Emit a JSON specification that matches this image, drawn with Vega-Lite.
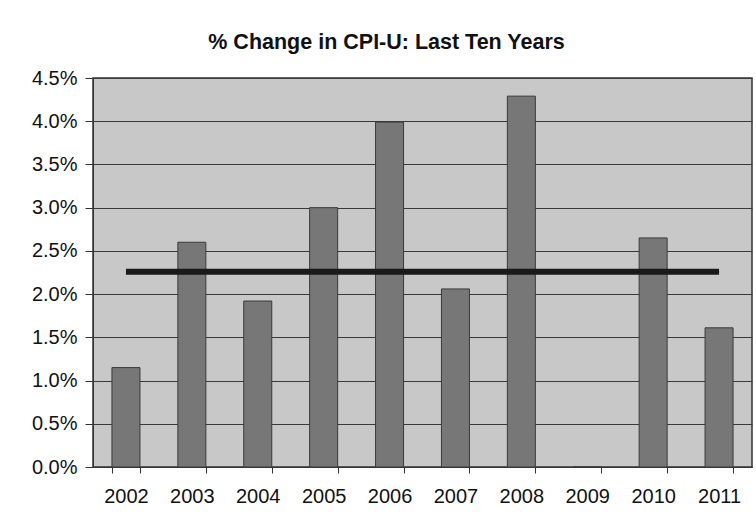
{
  "$schema": "https://vega.github.io/schema/vega-lite/v6.json",
  "autosize": "none",
  "width": 659,
  "height": 389,
  "padding": {"left": 93, "top": 78, "right": 4, "bottom": 62},
  "background": "#ffffff",
  "title": {
    "text": "% Change in CPI-U: Last Ten Years",
    "font": "Liberation Sans",
    "fontSize": 21.5,
    "fontWeight": "bold",
    "color": "#111111",
    "anchor": "middle",
    "dx": -36,
    "offset": 15
  },
  "config": {
    "view": {"fill": "#c8c8c8", "stroke": "#333333", "strokeWidth": 1.5},
    "axis": {
      "labelFont": "Liberation Sans",
      "labelFontSize": 20,
      "labelColor": "#111111",
      "domainColor": "#333333",
      "tickColor": "#333333"
    }
  },
  "data": {
    "values": [
      {"year": "2002", "change": 0.0115, "average": 0.0226},
      {"year": "2003", "change": 0.0260, "average": 0.0226},
      {"year": "2004", "change": 0.0192, "average": 0.0226},
      {"year": "2005", "change": 0.0300, "average": 0.0226},
      {"year": "2006", "change": 0.0399, "average": 0.0226},
      {"year": "2007", "change": 0.0206, "average": 0.0226},
      {"year": "2008", "change": 0.0429, "average": 0.0226},
      {"year": "2009", "change": 0.0, "average": 0.0226},
      {"year": "2010", "change": 0.0265, "average": 0.0226},
      {"year": "2011", "change": 0.0161, "average": 0.0226}
    ]
  },
  "encoding": {
    "x": {
      "field": "year",
      "type": "nominal",
      "sort": null,
      "scale": {"paddingInner": 0.575, "paddingOuter": 0.2875},
      "axis": {
        "title": null,
        "labelAngle": 0,
        "labelPadding": 13,
        "tickBand": "extent",
        "tickSize": 6,
        "grid": false
      }
    }
  },
  "layer": [
    {
      "mark": {"type": "bar", "color": "#777777", "stroke": "#3a3a3a", "strokeWidth": 1},
      "encoding": {
        "y": {
          "field": "change",
          "type": "quantitative",
          "scale": {"domain": [0, 0.045], "nice": false},
          "axis": {
            "title": null,
            "format": ".1%",
            "values": [0, 0.005, 0.01, 0.015, 0.02, 0.025, 0.03, 0.035, 0.04, 0.045],
            "grid": true,
            "gridColor": "#3a3a3a",
            "gridWidth": 1.2,
            "tickSize": 8,
            "labelPadding": 8,
            "domain": true
          }
        }
      }
    },
    {
      "mark": {"type": "line", "color": "#1a1a1a", "strokeWidth": 6},
      "encoding": {
        "y": {"field": "average", "type": "quantitative"}
      }
    }
  ]
}
